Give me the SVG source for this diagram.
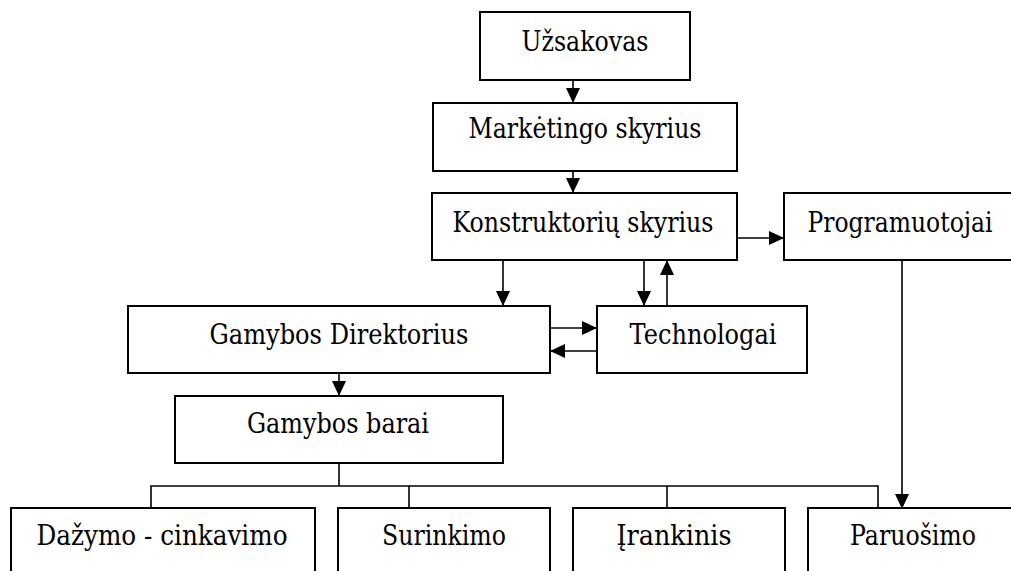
<svg xmlns="http://www.w3.org/2000/svg" width="1011" height="571" viewBox="0 0 1011 571">
<style>
.box{fill:#fff;stroke:#000;stroke-width:2}
.lbl{font-family:'DejaVu Serif','Liberation Serif',serif;font-size:27px;fill:#000;text-anchor:middle}
.c{fill:none;stroke:#000;stroke-width:1.6}
.a{marker-end:url(#ah)}
</style>
<defs>
<marker id="ah" markerUnits="userSpaceOnUse" markerWidth="16" markerHeight="14" refX="15" refY="7" orient="auto">
<path d="M0,0 L15,7 L0,14 Z" fill="#000"/>
</marker>
</defs>
<rect width="1011" height="571" fill="#fff"/>
<g id="connectors">
<line class="c a" x1="573" y1="80" x2="573" y2="103"/>
<line class="c a" x1="573" y1="171" x2="573" y2="193"/>
<line class="c a" x1="737" y1="238" x2="784" y2="238"/>
<line class="c a" x1="503" y1="260" x2="503" y2="306"/>
<line class="c a" x1="644" y1="260" x2="644" y2="306"/>
<line class="c a" x1="667" y1="306" x2="667" y2="260"/>
<line class="c a" x1="550" y1="328" x2="597" y2="328"/>
<line class="c a" x1="597" y1="351" x2="550" y2="351"/>
<line class="c a" x1="339" y1="373" x2="339" y2="396"/>
<line class="c a" x1="902" y1="260" x2="902" y2="509"/>
<path class="c" d="M339,463 V486 M151,509 V486 H878 V509 M409,486 V509 M667,486 V509"/>
</g>
<g id="uzsakovas"><rect class="box" x="480" y="12" width="210" height="68"/><text class="lbl" x="585" y="51" textLength="127" lengthAdjust="spacingAndGlyphs">Užsakovas</text></g>
<g id="marketingo"><rect class="box" x="433" y="103" width="304" height="68"/><text class="lbl" x="585" y="138" textLength="233" lengthAdjust="spacingAndGlyphs">Markėtingo skyrius</text></g>
<g id="konstruktoriu"><rect class="box" x="432" y="193" width="305" height="67"/><text class="lbl" x="583" y="232" textLength="261" lengthAdjust="spacingAndGlyphs">Konstruktorių skyrius</text></g>
<g id="programuotojai"><rect class="box" x="784" y="193" width="240" height="67"/><text class="lbl" x="900" y="232" textLength="185" lengthAdjust="spacingAndGlyphs">Programuotojai</text></g>
<g id="gamybos-direktorius"><rect class="box" x="128" y="306" width="422" height="67"/><text class="lbl" x="339" y="344" textLength="259" lengthAdjust="spacingAndGlyphs">Gamybos Direktorius</text></g>
<g id="technologai"><rect class="box" x="597" y="306" width="210" height="67"/><text class="lbl" x="703" y="344" textLength="147" lengthAdjust="spacingAndGlyphs">Technologai</text></g>
<g id="gamybos-barai"><rect class="box" x="175" y="396" width="328" height="67"/><text class="lbl" x="338" y="433" textLength="182" lengthAdjust="spacingAndGlyphs">Gamybos barai</text></g>
<g id="dazymo"><rect class="box" x="11" y="508" width="304" height="80"/><text class="lbl" x="162" y="545" textLength="251" lengthAdjust="spacingAndGlyphs">Dažymo - cinkavimo</text></g>
<g id="surinkimo"><rect class="box" x="338" y="508" width="212" height="80"/><text class="lbl" x="444" y="545" textLength="124" lengthAdjust="spacingAndGlyphs">Surinkimo</text></g>
<g id="irankinis"><rect class="box" x="573" y="508" width="212" height="80"/><text class="lbl" x="674" y="545" textLength="115" lengthAdjust="spacingAndGlyphs">Įrankinis</text></g>
<g id="paruosimo"><rect class="box" x="808" y="508" width="220" height="80"/><text class="lbl" x="913" y="545" textLength="126" lengthAdjust="spacingAndGlyphs">Paruošimo</text></g>
</svg>
